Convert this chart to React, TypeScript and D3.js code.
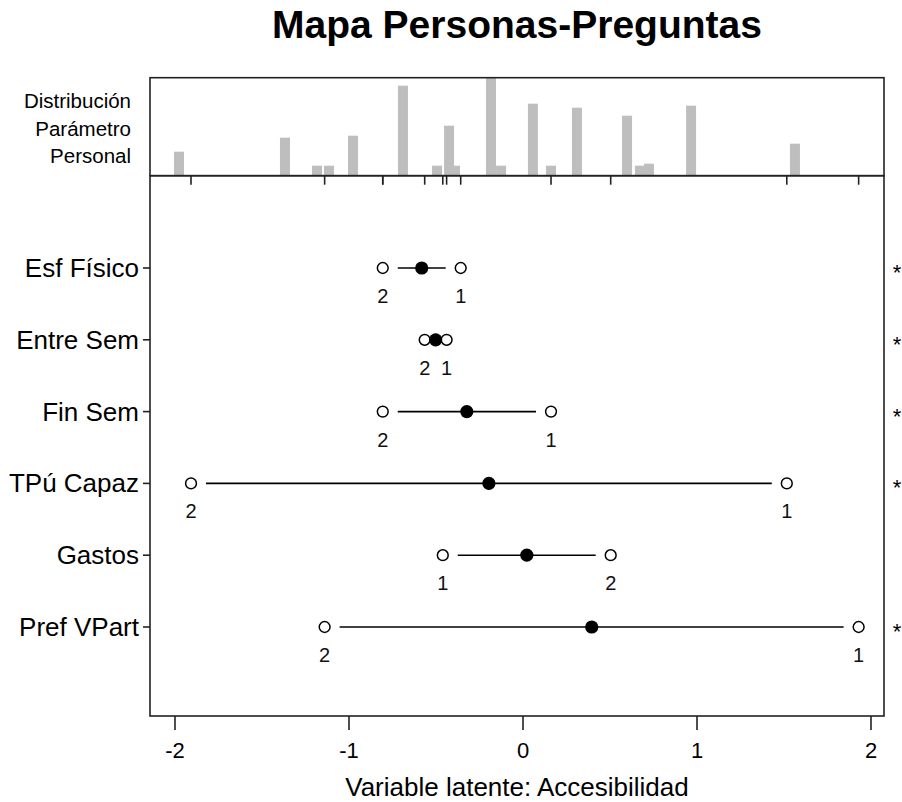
import React from "react";
import * as d3 from "d3";

// Item names (top to bottom)
const items = ["Esf Físico", "Entre Sem", "Fin Sem", "TPú Capaz", "Gastos", "Pref VPart"];
// Threshold estimates for category 1 and 2
const threshold1 = [-0.358, -0.439, 0.161, 1.516, -0.461, 1.929];
const threshold2 = [-0.806, -0.565, -0.806, -1.908, 0.504, -1.14];
// Item location (mean of thresholds)
const location = [-0.582, -0.502, -0.323, -0.196, 0.022, 0.395];

// Person parameter distribution: distinct estimates and their frequencies
const personTheta = [-1.977, -1.368, -1.184, -1.115, -0.977, -0.69, -0.494, -0.425, -0.391, -0.184, -0.126, 0.057, 0.161, 0.31, 0.598, 0.672, 0.724, 0.966, 1.563];
const personFreq = [12, 19, 5, 5, 20, 45, 5, 25, 5, 49, 5, 36, 5, 34, 30, 5, 6, 35, 16];

const xTicks = [-2, -1, 0, 1, 2];
const distLabels = ["Distribución", "Parámetro", "Personal"];

const FONT = "'Liberation Sans', Arial, sans-serif";

export default function App() {
  const W = 902, H = 802;
  const left = 150, right = 884;
  const histTop = 77.7, mid = 175.7, bottom = 716;

  const x = d3.scaleLinear().domain([-2, 2]).range([175, 871]);
  const yRow = d3.scaleLinear().domain([0, items.length - 1]).range([268, 627]);
  const yHist = d3.scaleLinear().domain([0, 49]).range([mid, histTop]);

  const barW = 10;
  const gap = 15;

  // shorter bars first so taller neighbours sit on top
  const bars = personTheta
    .map((t, i) => ({ t, f: personFreq[i] }))
    .sort((a, b) => a.f - b.f);

  const allThresholds = [...threshold1, ...threshold2];

  return (
    <svg width={W} height={H} style={{ display: "block", position: "absolute", left: 0, top: 0, background: "#fff" }} fontFamily={FONT}>
      <rect width={W} height={H} fill="#fff" />
      <text x={517} y={38} textAnchor="middle" fontWeight="bold" fontSize={39}>
        Mapa Personas-Preguntas
      </text>

      {/* person distribution */}
      {bars.map((b, i) => (
        <rect key={i} x={x(b.t) - barW / 2} y={yHist(b.f)} width={barW} height={mid - yHist(b.f)} fill="#bebebe" />
      ))}
      <rect x={left} y={histTop} width={right - left} height={mid - histTop} fill="none" stroke="#222" strokeWidth={1.6} />
      {distLabels.map((s, i) => (
        <text key={s} x={131} y={108 + i * 27.5} textAnchor="end" fontSize={20.5}>
          {s}
        </text>
      ))}
      {allThresholds.map((t, i) => (
        <line key={i} x1={x(t)} x2={x(t)} y1={mid} y2={mid + 9} stroke="#222" strokeWidth={1.6} />
      ))}

      {/* item map panel */}
      <rect x={left} y={mid} width={right - left} height={bottom - mid} fill="none" stroke="#222" strokeWidth={1.6} />
      {items.map((name, i) => {
        const y = yRow(i);
        const lo = Math.min(threshold1[i], threshold2[i]);
        const hi = Math.max(threshold1[i], threshold2[i]);
        const x0 = x(lo) + gap, x1 = x(hi) - gap;
        const disordered = threshold1[i] > threshold2[i];
        return (
          <g key={name}>
            <line x1={left - 7} x2={left} y1={y} y2={y} stroke="#222" strokeWidth={1.6} />
            <text x={139} y={y + 9} textAnchor="end" fontSize={26}>{name}</text>
            {x1 > x0 && <line x1={x0} x2={x1} y1={y} y2={y} stroke="#000" strokeWidth={1.6} />}
            {[threshold1[i], threshold2[i]].map((t, k) => (
              <g key={k}>
                <circle cx={x(t)} cy={y} r={5.4} fill="#fff" stroke="#000" strokeWidth={1.5} />
                <text x={x(t)} y={y + 35} textAnchor="middle" fontSize={20} fill="#111">{k + 1}</text>
              </g>
            ))}
            <circle cx={x(location[i])} cy={y} r={6.6} fill="#000" />
            {disordered && (
              <text x={897} y={y + 12} textAnchor="middle" fontSize={22}>*</text>
            )}
          </g>
        );
      })}

      {/* x axis */}
      {xTicks.map((t) => (
        <g key={t}>
          <line x1={x(t)} x2={x(t)} y1={bottom} y2={bottom + 14} stroke="#222" strokeWidth={1.6} />
          <text x={x(t)} y={bottom + 42} textAnchor="middle" fontSize={22}>{t}</text>
        </g>
      ))}
      <text x={517} y={796} textAnchor="middle" fontSize={26}>
        Variable latente: Accesibilidad
      </text>
    </svg>
  );
}
